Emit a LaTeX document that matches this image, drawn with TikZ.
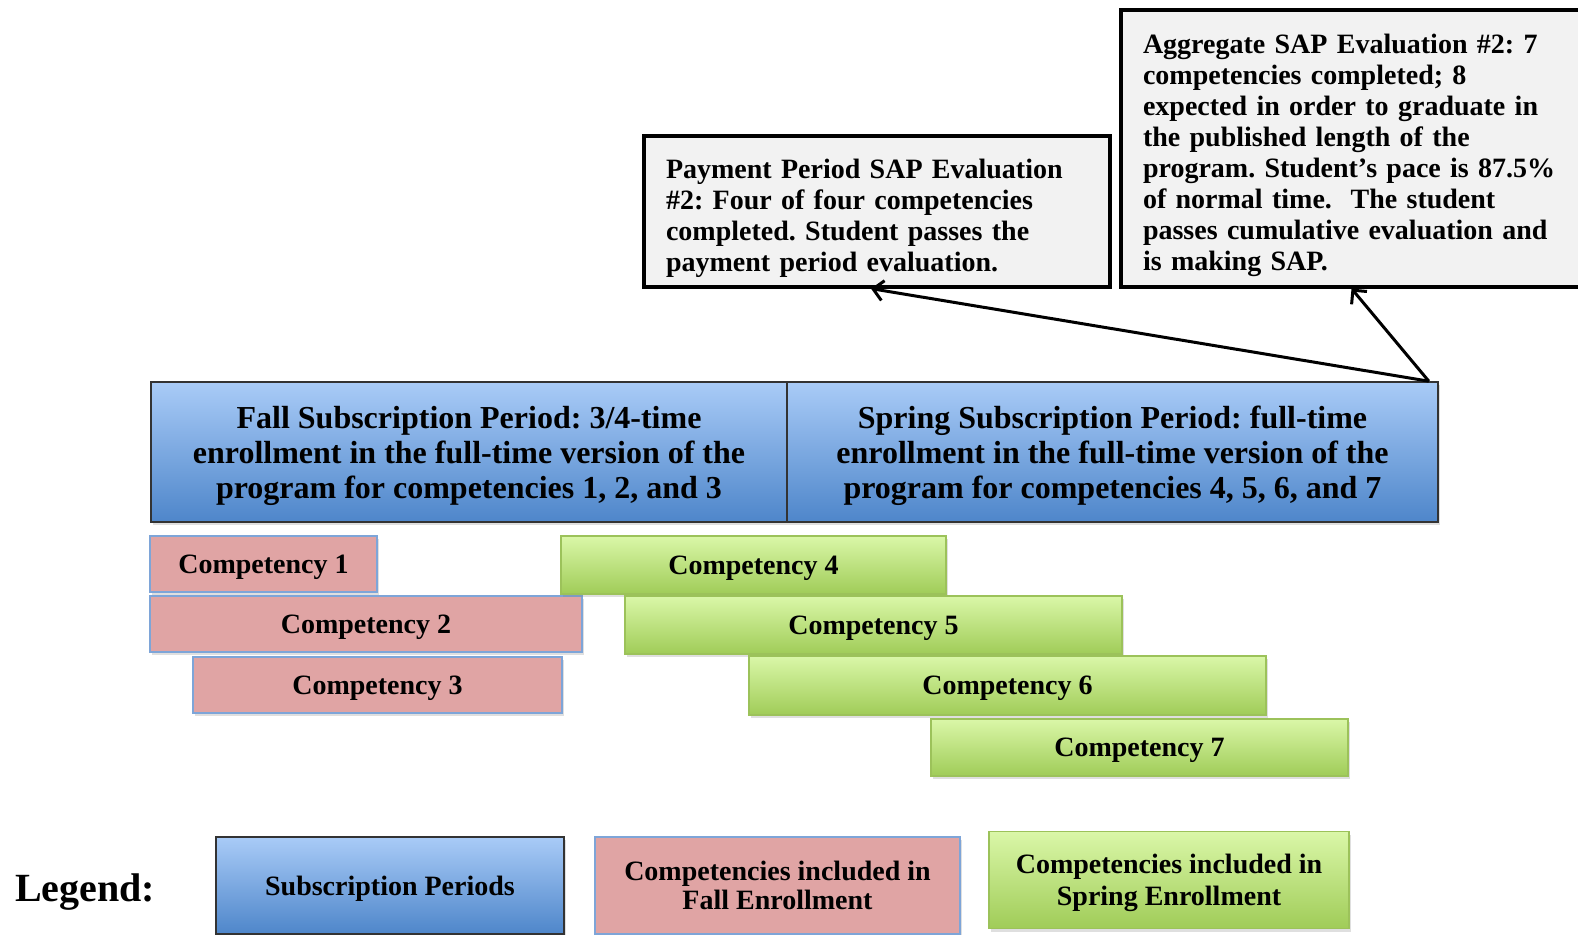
\documentclass[tikz,border=0pt]{standalone}
\usepackage{fontspec}
\setmainfont{Liberation Serif}
\frenchspacing
\usetikzlibrary{arrows.meta,shadows,positioning}

\definecolor{blueTop}{HTML}{A9CBF7}
\definecolor{blueBot}{HTML}{4E86CA}
\definecolor{pinkFill}{HTML}{E0A4A4}
\definecolor{pinkLine}{HTML}{7EA5D8}
\definecolor{greenTop}{HTML}{DAF7A8}
\definecolor{greenBot}{HTML}{A0CC58}
\definecolor{greenLine}{HTML}{9CC25A}
\definecolor{noteFill}{HTML}{F2F2F2}

\tikzset{
  every node/.style={font=\bfseries},
  boxshadow/.style={drop shadow={opacity=0.25,shadow xshift=1pt,shadow yshift=-1.5pt}},
  period/.style={draw=black!80,line width=0.8pt,top color=blueTop,bottom color=blueBot,
    inner sep=0pt,align=center,text depth=0pt,boxshadow,font=\bfseries\fontsize{16}{17.5}\selectfont},
  fallcomp/.style={draw=pinkLine,line width=0.8pt,fill=pinkFill,inner sep=0pt,align=center,
    text depth=0pt,boxshadow,font=\bfseries\fontsize{14}{14.5}\selectfont},
  springcomp/.style={draw=greenLine,line width=0.6pt,top color=greenTop,bottom color=greenBot,
    inner sep=0pt,align=center,text depth=0pt,boxshadow,font=\bfseries\fontsize{14}{14.5}\selectfont},
  note/.style={draw=black,line width=1.6pt,fill=noteFill,inner xsep=11pt,inner ysep=0pt,
    align=left,execute at begin node={\rule{0pt}{16.5pt}},font=\bfseries\fontsize{14}{15.5}\selectfont}
}

\begin{document}
\begin{tikzpicture}[x=0.5pt,y=-0.5pt,>={Straight Barb[length=5pt,width=10pt]}]
  \useasboundingbox (0,0) rectangle (1578,935);

  % evaluations
  \node[note,minimum width=233pt,minimum height=75.5pt,text width=211pt] (pay) at (877,211.5)
    {Payment Period SAP Evaluation\\ \#2: Four of four competencies\\ completed. Student passes the\\ payment period evaluation.};
  \node[note,minimum width=234.5pt,minimum height=138.5pt,text width=212.5pt] (agg) at (1355.5,148.5)
    {Aggregate SAP Evaluation \#2: 7\\ competencies completed; 8\\ expected in order to graduate in\\ the published length of the\\ program. Student's pace is 87.5\%\\ of normal time.\ \ The student\\ passes cumulative evaluation and\\ is making SAP.};

  % subscription periods
  \node[period,minimum width=318pt,minimum height=70pt] (fall) at (469,452)
    {Fall Subscription Period: 3/4-time\\ enrollment in the full-time version of the\\ program for competencies 1, 2, and 3};
  \node[period,minimum width=325.5pt,minimum height=70pt] (spring) at (1112.5,452)
    {Spring Subscription Period: full-time\\ enrollment in the full-time version of the\\ program for competencies 4, 5, 6, and 7};

  % competencies
  \node[fallcomp,minimum width=113.5pt,minimum height=28pt] (c1) at (263.5,564) {Competency 1};
  \node[fallcomp,minimum width=216pt,minimum height=28pt] (c2) at (366,624) {Competency 2};
  \node[fallcomp,minimum width=184.5pt,minimum height=28pt] (c3) at (377.5,685) {Competency 3};
  \node[springcomp,minimum width=192.5pt,minimum height=29pt] (c4) at (753.5,565) {Competency 4};
  \node[springcomp,minimum width=248.5pt,minimum height=29pt] (c5) at (873.5,625) {Competency 5};
  \node[springcomp,minimum width=258.5pt,minimum height=29.5pt] (c6) at (1007.5,685.5) {Competency 6};
  \node[springcomp,minimum width=208.5pt,minimum height=28.5pt] (c7) at (1139.5,747.5) {Competency 7};

  % arrows to the evaluations
  \coordinate (src) at ([xshift=-5pt]spring.north east);
  \draw[->,line width=1.5pt] (src) -- ([xshift=-3pt]pay.south);
  \draw[->,line width=1.5pt] (src) -- ([xshift=-2pt]agg.south);

  % legend
  \node[font=\bfseries\fontsize{20}{22}\selectfont] (leg) at (85,892) {Legend:};
  \node[period,minimum width=174pt,minimum height=48.5pt,font=\bfseries\fontsize{14}{15}\selectfont] (lsub) at (390,885.5) {Subscription Periods};
  \node[fallcomp,minimum width=182.5pt,minimum height=48.5pt,font=\bfseries\fontsize{14}{14.5}\selectfont] (lfall) at (777.5,885.5) {Competencies included in\\ Fall Enrollment};
  \node[springcomp,minimum width=180pt,minimum height=48.5pt,font=\bfseries\fontsize{14}{16}\selectfont] (lspring) at (1169,880) {Competencies included in\\ Spring Enrollment};
\end{tikzpicture}
\end{document}
